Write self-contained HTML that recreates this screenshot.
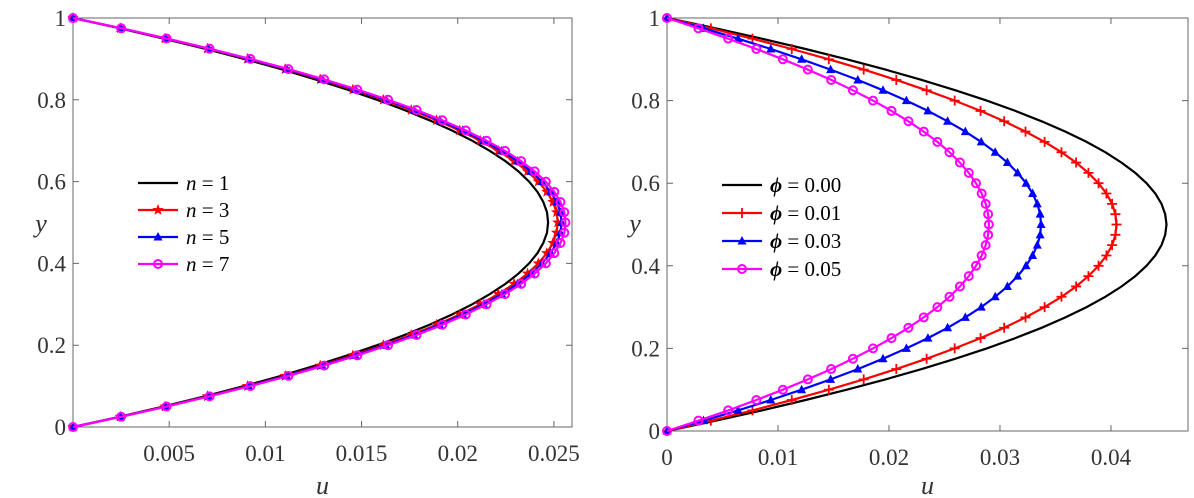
<!DOCTYPE html>
<html><head><meta charset="utf-8">
<style>
body{margin:0;background:#fff;}
svg{display:block;font-family:"Liberation Serif",serif;}
</style></head>
<body>
<svg id="chart" width="1194" height="498" viewBox="0 0 1194 498" xmlns="http://www.w3.org/2000/svg">
<g id="gl"></g>
<g id="gr"></g>
</svg>
<script>
// y positions of points on the lower half (0..0.5); profiles are mirrored about y=0.5
const yHalf = [0,0.025,0.05,0.075,0.1,0.125,0.15,0.175,0.2,0.225,0.25,0.275,0.3,0.325,0.35,0.375,0.4,0.425,0.45,0.475,0.5];
// left panel (n series) u values on lower half
const uN1 = [0,.00241,.00469,.00685,.00889,.01081,.0126,.01426,.01581,.01723,.01853,.0197,.02075,.02167,.02248,.02316,.02371,.02414,.02445,.02464,.0247];
const uN3 = [0,.00246,.00479,.00699,.00907,.01103,.01285,.01455,.01613,.01758,.0189,.0201,.02117,.02211,.02293,.02363,.02419,.02463,.02495,.02514,.0252];
const uN5 = [0,.00248,.00483,.00705,.00914,.01111,.01295,.01467,.01626,.01772,.01905,.02026,.02134,.02229,.02311,.02381,.02438,.02483,.02515,.02534,.0254];
const uN7 = [0,.0025,.00486,.0071,.00922,.0112,.01306,.01478,.01638,.01786,.0192,.02042,.0215,.02246,.0233,.024,.02458,.02502,.02534,.02554,.0256];
// right panel (phi series)
const uP000 = [0,.00439,.00855,.01249,.0162,.01969,.02295,.02599,.0288,.03139,.03375,.03589,.0378,.03949,.04095,.04219,.0432,.04399,.04455,.04489,.045];
const uP001 = [0,.00395,.0077,.01124,.01458,.01772,.02066,.02339,.02592,.02825,.03038,.0323,.03402,.03554,.03686,.03797,.03888,.03959,.0401,.0404,.0405];
const uP003 = [0,.00329,.0064,.00935,.01213,.01474,.01719,.01946,.02157,.02351,.02528,.02688,.02831,.02957,.03067,.03159,.03235,.03294,.03336,.03362,.0337];
const uP005 = [0,.00283,.00551,.00805,.01044,.01269,.01479,.01675,.01856,.02023,.02175,.02313,.02436,.02545,.02639,.02719,.02784,.02835,.02871,.02893,.029];
const yTicks = [0,0.2,0.4,0.6,0.8,1];
const yTickLabels = ["0","0.2","0.4","0.6","0.8","1"];
const xTicksL = [0.005,0.01,0.015,0.02,0.025];
const xTickLabelsL = ["0.005","0.01","0.015","0.02","0.025"];
const xTicksR = [0,0.01,0.02,0.03,0.04];
const xTickLabelsR = ["0","0.01","0.02","0.03","0.04"];
const legendL = ["1","3","5","7"];
const legendR = ["0.00","0.01","0.03","0.05"];

const NS="http://www.w3.org/2000/svg";
function mk(tag,attrs,parent){const e=document.createElementNS(NS,tag);for(const k in attrs)e.setAttribute(k,attrs[k]);parent.appendChild(e);return e;}
function full(u){const ys=[],us=[];for(let i=0;i<yHalf.length;i++){ys.push(yHalf[i]);us.push(u[i]);}
 for(let i=yHalf.length-2;i>=0;i--){ys.push(1-yHalf[i]);us.push(u[i]);}return {ys,us};}

function marker(g,type,x,y,color){
 let e;
 if(type==='star'){let p='';for(let i=0;i<10;i++){const r=i%2?2.2:5.5,a=-Math.PI/2+i*Math.PI/5;p+=(x+r*Math.cos(a)).toFixed(1)+','+(y+r*Math.sin(a)).toFixed(1)+' ';}
  e=mk('polygon',{points:p,fill:color,stroke:color,'stroke-width':0.5},g);}
 else if(type==='tri'){e=mk('polygon',{points:`${x},${y-5} ${x-4.5},${y+3.5} ${x+4.5},${y+3.5}`,fill:color},g);}
 else if(type==='circ'){e=mk('circle',{cx:x,cy:y,r:4,fill:'none',stroke:color,'stroke-width':2},g);}
 else if(type==='plus'){e=mk('path',{d:`M${x-5},${y}H${x+5}M${x},${y-5}V${y+5}`,stroke:color,'stroke-width':1.8},g);}
 
 
}

function panel(g,o){
 const X=u=>o.x0+(u-o.umin)*(o.x1-o.x0)/(o.umax-o.umin);
 const Y=v=>o.yb+(o.yt-o.yb)*v;
 const box=mk('rect',{x:o.x0,y:o.yt,width:o.x1-o.x0,height:o.yb-o.yt,fill:'none',stroke:'#666','stroke-width':1},g);
 
 
 yTicks.forEach((t,i)=>{const y=Y(t);
  mk('path',{d:`M${o.x0},${y}h6M${o.x1},${y}h-6`,stroke:'#666'},g);
  const tx=mk('text',{x:o.x0-7,y:y+8,'text-anchor':'end','font-size':23,fill:'#333'},g);tx.textContent=yTickLabels[i];
  
  });
 o.xt.forEach((t,i)=>{const x=X(t);
  mk('path',{d:`M${x},${o.yb}v-6M${x},${o.yt}v6`,stroke:'#666'},g);
  const tx=mk('text',{x:x,y:o.yb+34,'text-anchor':'middle','font-size':23,fill:'#333'},g);tx.textContent=o.xl[i];
  
  });
 const xl=mk('text',{x:(o.x0+o.x1)/2,y:494,'text-anchor':'middle','font-size':26,'font-style':'italic',fill:'#333'},g);xl.textContent='u';
 
 
 const yl=mk('text',{x:o.x0-32,y:232,'text-anchor':'middle','font-size':26,'font-style':'italic',fill:'#333'},g);yl.textContent='y';
 
 
 o.series.forEach(s=>{const d=full(s.u);
  const pts=d.us.map((u,i)=>X(u).toFixed(1)+','+Y(d.ys[i]).toFixed(1)).join(' ');
  const pl=mk('polyline',{points:pts,fill:'none',stroke:s.c,'stroke-width':2.2},g);
  
  
  if(s.m)d.us.forEach((u,i)=>marker(g,s.m,X(u),Y(d.ys[i]),s.c));});
 o.series.forEach((s,i)=>{const y=o.ly+i*o.ldy;
  const lg=mk('g',{},g);
  
  
  mk('line',{x1:o.lx,x2:o.lx+40,y1:y,y2:y,stroke:s.c,'stroke-width':2.2},lg);
  if(s.m)marker(lg,s.m,o.lx+20,y,s.c);
  const t=mk('text',{x:o.lx+48,y:y+7,'font-size':21,fill:'#000'},lg);
  const a=mk('tspan',{'font-style':'italic','font-weight':o.sym==='ϕ'?'bold':'normal'},t);a.textContent=o.sym;
  const b=mk('tspan',{},t);b.textContent=' = '+o.lab[i];});
}

panel(document.getElementById('gl'),{x0:73,x1:572,yt:18,yb:427,umin:0,umax:0.02594,xt:xTicksL,xl:xTickLabelsL,
 series:[{u:uN1,c:'#000',m:null},{u:uN3,c:'#ff0000',m:'star'},{u:uN5,c:'#0000ff',m:'tri'},{u:uN7,c:'#ff00ff',m:'circ'}],
 lx:138,ly:183,ldy:27,sym:'n',lab:legendL});
panel(document.getElementById('gr'),{x0:667,x1:1188,yt:18,yb:431,umin:0,umax:0.04694,xt:xTicksR,xl:xTickLabelsR,
 series:[{u:uP000,c:'#000',m:null},{u:uP001,c:'#ff0000',m:'plus'},{u:uP003,c:'#0000ff',m:'tri'},{u:uP005,c:'#ff00ff',m:'circ'}],
 lx:722,ly:185,ldy:28,sym:'ϕ',lab:legendR});
</script>
</body></html>
